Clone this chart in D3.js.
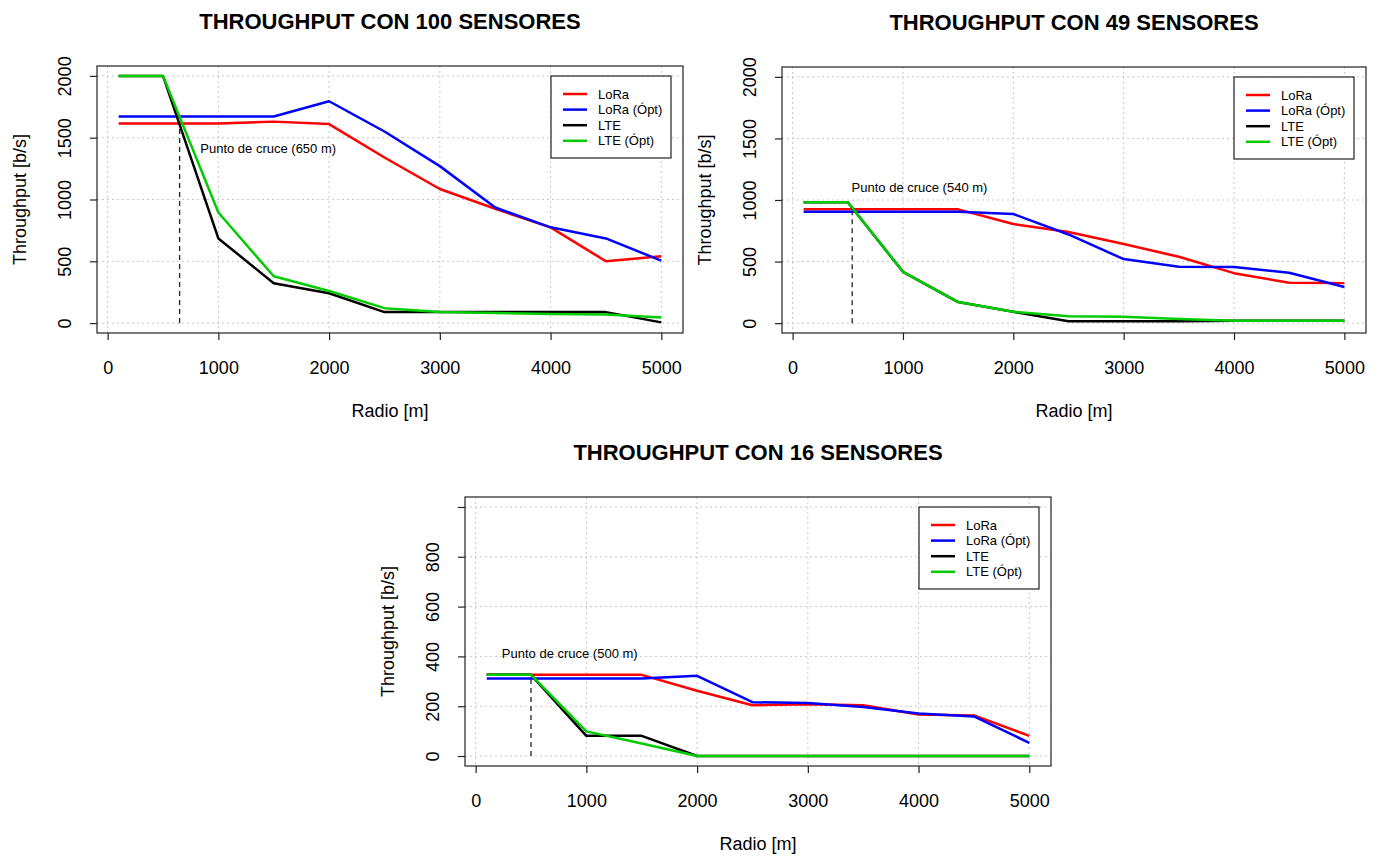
<!DOCTYPE html>
<html>
<head>
<meta charset="utf-8">
<script src="https://cdn.jsdelivr.net/npm/d3@7"></script>
<style>
	body { margin: 0; background: #fff; }
	text { font-family: "Liberation Sans", Arial, sans-serif; fill: #000; }
</style>
</head>
<body>
<div class="chart"></div>
<script>
(function (){

	// Radio values (x) shared by every panel
	var radio = [100, 500, 1000, 1500, 2000, 2500, 3000, 3500, 4000, 4500, 5000];

	var seriesNames = ["LoRa", "LoRa (Ópt)", "LTE", "LTE (Ópt)"];
	var seriesColors = ["#ff0000", "#0000ff", "#000000", "#00cc00"];

	// 100 sensores
	var lora100    = [1615, 1615, 1615, 1630, 1610, 1340, 1085, 925, 775, 500, 540];
	var loraOpt100 = [1672, 1672, 1672, 1672, 1795, 1550, 1270, 935, 775, 685, 505];
	var lte100     = [2000, 2000, 685, 323, 242, 89, 89, 89, 89, 89, 6];
	var lteOpt100  = [2000, 2000, 895, 379, 260, 121, 89, 82, 73, 70, 46];

	// 49 sensores
	var lora49    = [924, 924, 924, 924, 805, 740, 642, 539, 406, 328, 325];
	var loraOpt49 = [905, 905, 905, 905, 886, 720, 520, 458, 455, 409, 293];
	var lte49     = [981, 981, 417, 171, 92, 16, 16, 16, 19, 19, 19];
	var lteOpt49  = [981, 981, 417, 171, 92, 57, 52, 33, 19, 19, 19];

	// 16 sensores
	var lora16    = [326, 326, 326, 326, 262, 204, 208, 204, 167, 163, 81];
	var loraOpt16 = [311, 311, 311, 311, 322, 216, 213, 197, 171, 159, 53];
	var lte16     = [326, 326, 81, 81, 0, 0, 0, 0, 0, 0, 0];
	var lteOpt16  = [326, 326, 99, 50, 0, 0, 0, 0, 0, 0, 0];

	// Tick labels
	var xTicks = [0, 1000, 2000, 3000, 4000, 5000];
	var yTicksBig = [0, 500, 1000, 1500, 2000];
	var yTicksSmall = [0, 200, 400, 600, 800, 1000];
	var yLabelsSmall = ["0", "200", "400", "600", "800", ""];

	// Crossing points (radio, height of the dashed line)
	var cruceX = [650, 540, 500];
	var cruceTop = [1600, 918, 308];

	var panels = [
		{ title: "THROUGHPUT CON 100 SENSORES", box: { left: 97, right: 683, top: 66, bottom: 333 },
		  yMax: 2000, yTicks: yTicksBig, yLabels: null, series: [lora100, loraOpt100, lte100, lteOpt100],
		  note: [1450, 1410] },
		{ title: "THROUGHPUT CON 49 SENSORES", box: { left: 782, right: 1366, top: 67, bottom: 333 },
		  yMax: 2000, yTicks: yTicksBig, yLabels: null, series: [lora49, loraOpt49, lte49, lteOpt49],
		  note: [1150, 1105] },
		{ title: "THROUGHPUT CON 16 SENSORES", box: { left: 465, right: 1051, top: 497, bottom: 766 },
		  yMax: 1000, yTicks: yTicksSmall, yLabels: yLabelsSmall, series: [lora16, loraOpt16, lte16, lteOpt16],
		  note: [850, 410] }
	];

	var svg = d3.select(".chart")
		.append("svg")
		.attr("width", 1381)
		.attr("height", 863);

	svg.append("rect").attr("width", 1381).attr("height", 863).attr("fill", "#fff");

	function drawPanel(p, i) {
		var b = p.box;
		var ext = 0.04 * (radio[radio.length - 1] - radio[0]);

		var xScale = d3.scaleLinear()
			.domain([radio[0] - ext, radio[radio.length - 1] + ext])
			.range([b.left, b.right]);

		var yScale = d3.scaleLinear()
			.domain([-0.04 * p.yMax, 1.04 * p.yMax])
			.range([b.bottom, b.top]);

		var g = svg.append("g");

		// grid
		g.selectAll(".gx").data(xTicks).enter().append("line")
			.attr("x1", function(d){ return xScale(d); })
			.attr("x2", function(d){ return xScale(d); })
			.attr("y1", b.top).attr("y2", b.bottom)
			.attr("stroke", "#c8c8c8").attr("stroke-dasharray", "2,3");

		g.selectAll(".gy").data(p.yTicks).enter().append("line")
			.attr("y1", function(d){ return yScale(d); })
			.attr("y2", function(d){ return yScale(d); })
			.attr("x1", b.left).attr("x2", b.right)
			.attr("stroke", "#c8c8c8").attr("stroke-dasharray", "2,3");

		// dashed line at the crossing point
		g.append("line")
			.attr("x1", xScale(cruceX[i])).attr("x2", xScale(cruceX[i]))
			.attr("y1", yScale(0)).attr("y2", yScale(cruceTop[i]))
			.attr("stroke", "#222").attr("stroke-width", 1.3)
			.attr("stroke-dasharray", "5,4");

		g.append("text")
			.attr("x", xScale(p.note[0]))
			.attr("y", yScale(p.note[1]))
			.attr("dy", "0.35em")
			.attr("text-anchor", "middle")
			.style("font-size", "13px")
			.text("Punto de cruce (" + cruceX[i] + " m)");

		// series
		var line = d3.line()
			.x(function(d, j){ return xScale(radio[j]); })
			.y(function(d){ return yScale(d); });

		p.series.forEach(function(s, k){
			g.append("path")
				.datum(s)
				.attr("d", line)
				.attr("fill", "none")
				.attr("stroke", seriesColors[k])
				.attr("stroke-width", 2.5)
				.attr("stroke-linejoin", "round");
		});

		// box
		g.append("rect")
			.attr("x", b.left).attr("y", b.top)
			.attr("width", b.right - b.left).attr("height", b.bottom - b.top)
			.attr("fill", "none").attr("stroke", "#222").attr("stroke-width", 1.2);

		// x axis
		var xAxisG = g.append("g")
			.attr("transform", "translate(0," + b.bottom + ")")
			.call(d3.axisBottom(xScale).tickValues(xTicks).tickSize(7).tickFormat(d3.format("d")));
		xAxisG.select(".domain").remove();
		xAxisG.selectAll("line").attr("stroke", "#222").attr("stroke-width", 1.2);
		xAxisG.selectAll("text")
			.attr("y", 35).attr("dy", "0.35em")
			.style("font-size", "18px").style("font-family", "Liberation Sans, Arial, sans-serif");

		// y axis
		var yAxis = d3.axisLeft(yScale).tickValues(p.yTicks).tickSize(7);
		if (p.yLabels) yAxis.tickFormat(function(d, j){ return p.yLabels[j]; });
		else yAxis.tickFormat(d3.format("d"));
		var yAxisG = g.append("g")
			.attr("transform", "translate(" + b.left + ",0)")
			.call(yAxis);
		yAxisG.select(".domain").remove();
		yAxisG.selectAll("line").attr("stroke", "#222").attr("stroke-width", 1.2);
		yAxisG.selectAll("text")
			.attr("x", 0).attr("dy", "0.35em")
			.attr("text-anchor", "middle")
			.attr("transform", "translate(-32,0) rotate(-90)")
			.style("font-size", "18px").style("font-family", "Liberation Sans, Arial, sans-serif");

		// titles
		g.append("text")
			.attr("x", (b.left + b.right) / 2)
			.attr("y", b.top - 45)
			.attr("dy", "0.35em")
			.attr("text-anchor", "middle")
			.style("font-size", "22px")
			.style("font-weight", "bold")
			.text(p.title);

		g.append("text")
			.attr("x", (b.left + b.right) / 2)
			.attr("y", b.bottom + 78)
			.attr("dy", "0.35em")
			.attr("text-anchor", "middle")
			.style("font-size", "18px")
			.text("Radio [m]");

		var ty = (b.top + b.bottom) / 2;
		g.append("text")
			.attr("transform", "translate(" + (b.left - 77) + "," + ty + ") rotate(-90)")
			.attr("dy", "0.35em")
			.attr("text-anchor", "middle")
			.style("font-size", "18px")
			.text("Throughput [b/s]");

		// legend
		var lw = 120, lh = 82;
		var lx = b.right - 12 - lw, ly = b.top + 10;
		var legend = g.append("g").attr("transform", "translate(" + lx + "," + ly + ")");
		legend.append("rect")
			.attr("width", lw).attr("height", lh)
			.attr("fill", "#fff").attr("stroke", "#222").attr("stroke-width", 1.2);
		seriesNames.forEach(function(name, k){
			var yy = 18 + k * 15.6;
			legend.append("line")
				.attr("x1", 12).attr("x2", 36).attr("y1", yy).attr("y2", yy)
				.attr("stroke", seriesColors[k]).attr("stroke-width", 2.5);
			legend.append("text")
				.attr("x", 47).attr("y", yy).attr("dy", "0.35em")
				.style("font-size", "13px")
				.text(name);
		});
	}

	panels.forEach(drawPanel);
})();
</script>
</body>
</html>
